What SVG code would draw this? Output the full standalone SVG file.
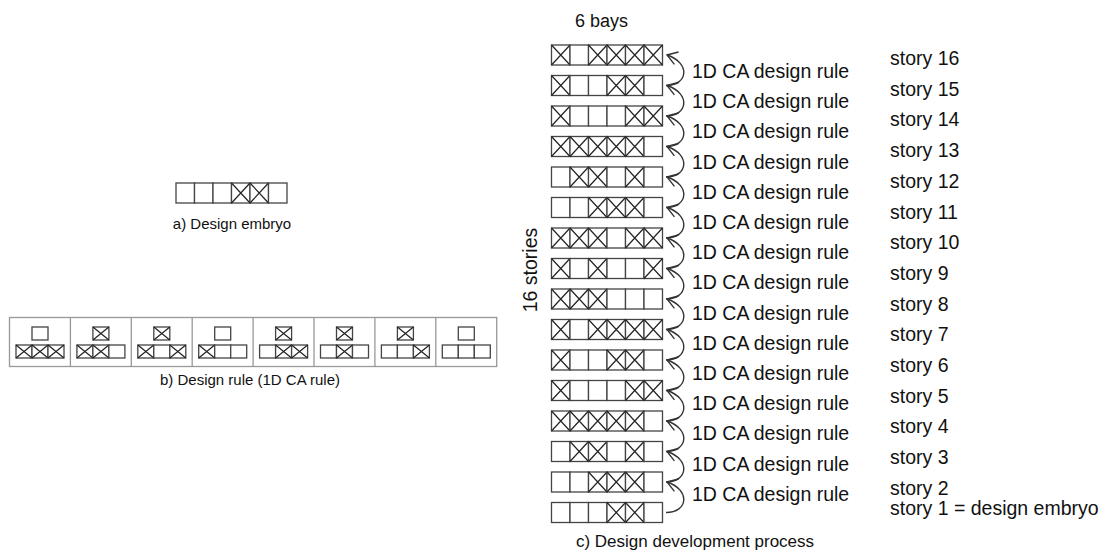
<svg xmlns="http://www.w3.org/2000/svg" xmlns:xlink="http://www.w3.org/1999/xlink" width="1107" height="555" viewBox="0 0 1107 555">
<style>
text{font-family:"Liberation Sans",Arial,sans-serif;fill:#111}
.cell{fill:#fff;stroke:#444;stroke-width:1.3}
.xl{fill:none;stroke:#222;stroke-width:1.2}
.frame{fill:#fff;stroke:#999;stroke-width:1.3}
.arr{fill:none;stroke:#333;stroke-width:1.4}
.lbl{font-size:19.5px}
.cap{font-size:15px;text-anchor:middle}
</style>
<defs>
<g id="e"><rect width="18.5" height="20" class="cell"/></g>
<g id="x"><rect width="18.5" height="20" class="cell"/><path d="M0 0L18.5 20M18.5 0L0 20" class="xl"/></g>
<g id="se"><rect width="16" height="13" class="cell"/></g>
<g id="sx"><rect width="16" height="13" class="cell"/><path d="M0 0L16 13M16 0L0 13" class="xl"/></g>
<marker id="ah" viewBox="-1 -8 12 16" refX="10" refY="0" markerWidth="12" markerHeight="16" markerUnits="userSpaceOnUse" orient="auto"><path d="M0,-6.5L10,0L0,6.5" fill="none" stroke="#333" stroke-width="1.4"/></marker>
</defs>
<rect width="1107" height="555" fill="#fff"/>

<g id="embryo" transform="translate(176,183)">
<use href="#e" x="0"/><use href="#e" x="18.5"/><use href="#e" x="37"/><use href="#x" x="55.5"/><use href="#x" x="74"/><use href="#e" x="92.5"/>
</g>
<text class="cap" x="232" y="229">a) Design embryo</text>

<g id="rule">
<rect class="frame" x="9.5" y="317.5" width="487.2" height="49"/>
<path d="M70.4 317.5V366.5M131.3 317.5V366.5M192.2 317.5V366.5M253.1 317.5V366.5M314 317.5V366.5M374.9 317.5V366.5M435.8 317.5V366.5" stroke="#999" stroke-width="1.3"/>
<g transform="translate(9.5,0)"><use href="#se" x="22.5" y="327"/><use href="#sx" x="6.5" y="345"/><use href="#sx" x="22.5" y="345"/><use href="#sx" x="38.5" y="345"/></g>
<g transform="translate(70.4,0)"><use href="#sx" x="22.5" y="327"/><use href="#sx" x="6.5" y="345"/><use href="#sx" x="22.5" y="345"/><use href="#se" x="38.5" y="345"/></g>
<g transform="translate(131.3,0)"><use href="#sx" x="22.5" y="327"/><use href="#sx" x="6.5" y="345"/><use href="#se" x="22.5" y="345"/><use href="#sx" x="38.5" y="345"/></g>
<g transform="translate(192.2,0)"><use href="#se" x="22.5" y="327"/><use href="#sx" x="6.5" y="345"/><use href="#se" x="22.5" y="345"/><use href="#se" x="38.5" y="345"/></g>
<g transform="translate(253.1,0)"><use href="#sx" x="22.5" y="327"/><use href="#se" x="6.5" y="345"/><use href="#sx" x="22.5" y="345"/><use href="#sx" x="38.5" y="345"/></g>
<g transform="translate(314,0)"><use href="#sx" x="22.5" y="327"/><use href="#se" x="6.5" y="345"/><use href="#sx" x="22.5" y="345"/><use href="#se" x="38.5" y="345"/></g>
<g transform="translate(374.9,0)"><use href="#sx" x="22.5" y="327"/><use href="#se" x="6.5" y="345"/><use href="#se" x="22.5" y="345"/><use href="#sx" x="38.5" y="345"/></g>
<g transform="translate(435.8,0)"><use href="#se" x="22.5" y="327"/><use href="#se" x="6.5" y="345"/><use href="#se" x="22.5" y="345"/><use href="#se" x="38.5" y="345"/></g>
</g>
<text class="cap" x="250" y="385">b) Design rule (1D CA rule)</text>

<text x="575" y="27" style="font-size:18px">6 bays</text>
<text class="lbl" transform="translate(537,270) rotate(-90)" text-anchor="middle">16 stories</text>

<g id="story16" transform="translate(551.5,45)"><use href="#x"/><use href="#e" x="18.5"/><use href="#x" x="37"/><use href="#x" x="55.5"/><use href="#x" x="74"/><use href="#x" x="92.5"/></g>
<g id="story15" transform="translate(551.5,75.5)"><use href="#x"/><use href="#e" x="18.5"/><use href="#e" x="37"/><use href="#x" x="55.5"/><use href="#x" x="74"/><use href="#e" x="92.5"/></g>
<g id="story14" transform="translate(551.5,106)"><use href="#x"/><use href="#e" x="18.5"/><use href="#e" x="37"/><use href="#e" x="55.5"/><use href="#x" x="74"/><use href="#x" x="92.5"/></g>
<g id="story13" transform="translate(551.5,136.5)"><use href="#x"/><use href="#x" x="18.5"/><use href="#x" x="37"/><use href="#x" x="55.5"/><use href="#x" x="74"/><use href="#e" x="92.5"/></g>
<g id="story12" transform="translate(551.5,167)"><use href="#e"/><use href="#x" x="18.5"/><use href="#x" x="37"/><use href="#e" x="55.5"/><use href="#x" x="74"/><use href="#e" x="92.5"/></g>
<g id="story11" transform="translate(551.5,197.5)"><use href="#e"/><use href="#e" x="18.5"/><use href="#x" x="37"/><use href="#x" x="55.5"/><use href="#x" x="74"/><use href="#e" x="92.5"/></g>
<g id="story10" transform="translate(551.5,228)"><use href="#x"/><use href="#x" x="18.5"/><use href="#x" x="37"/><use href="#e" x="55.5"/><use href="#x" x="74"/><use href="#x" x="92.5"/></g>
<g id="story9" transform="translate(551.5,258.5)"><use href="#x"/><use href="#e" x="18.5"/><use href="#x" x="37"/><use href="#e" x="55.5"/><use href="#e" x="74"/><use href="#x" x="92.5"/></g>
<g id="story8" transform="translate(551.5,289)"><use href="#x"/><use href="#x" x="18.5"/><use href="#x" x="37"/><use href="#e" x="55.5"/><use href="#e" x="74"/><use href="#e" x="92.5"/></g>
<g id="story7" transform="translate(551.5,319.5)"><use href="#x"/><use href="#e" x="18.5"/><use href="#x" x="37"/><use href="#x" x="55.5"/><use href="#x" x="74"/><use href="#x" x="92.5"/></g>
<g id="story6" transform="translate(551.5,350)"><use href="#x"/><use href="#e" x="18.5"/><use href="#e" x="37"/><use href="#x" x="55.5"/><use href="#x" x="74"/><use href="#e" x="92.5"/></g>
<g id="story5" transform="translate(551.5,380.5)"><use href="#x"/><use href="#e" x="18.5"/><use href="#e" x="37"/><use href="#e" x="55.5"/><use href="#x" x="74"/><use href="#x" x="92.5"/></g>
<g id="story4" transform="translate(551.5,411)"><use href="#x"/><use href="#x" x="18.5"/><use href="#x" x="37"/><use href="#x" x="55.5"/><use href="#x" x="74"/><use href="#e" x="92.5"/></g>
<g id="story3" transform="translate(551.5,441.5)"><use href="#e"/><use href="#x" x="18.5"/><use href="#x" x="37"/><use href="#e" x="55.5"/><use href="#x" x="74"/><use href="#e" x="92.5"/></g>
<g id="story2" transform="translate(551.5,472)"><use href="#e"/><use href="#e" x="18.5"/><use href="#x" x="37"/><use href="#x" x="55.5"/><use href="#x" x="74"/><use href="#e" x="92.5"/></g>
<g id="story1" transform="translate(551.5,502.5)"><use href="#e"/><use href="#e" x="18.5"/><use href="#e" x="37"/><use href="#x" x="55.5"/><use href="#x" x="74"/><use href="#e" x="92.5"/></g>

<g id="connectors">
<path class="arr" marker-end="url(#ah)" d="M666 85.5C688 85.5 691 63 667 55"/>
<path class="arr" marker-end="url(#ah)" d="M666 116C688 116 691 93.5 667 85.5"/>
<path class="arr" marker-end="url(#ah)" d="M666 146.5C688 146.5 691 124 667 116"/>
<path class="arr" marker-end="url(#ah)" d="M666 177C688 177 691 154.5 667 146.5"/>
<path class="arr" marker-end="url(#ah)" d="M666 207.5C688 207.5 691 185 667 177"/>
<path class="arr" marker-end="url(#ah)" d="M666 238C688 238 691 215.5 667 207.5"/>
<path class="arr" marker-end="url(#ah)" d="M666 268.5C688 268.5 691 246 667 238"/>
<path class="arr" marker-end="url(#ah)" d="M666 299C688 299 691 276.5 667 268.5"/>
<path class="arr" marker-end="url(#ah)" d="M666 329.5C688 329.5 691 307 667 299"/>
<path class="arr" marker-end="url(#ah)" d="M666 360C688 360 691 337.5 667 329.5"/>
<path class="arr" marker-end="url(#ah)" d="M666 390.5C688 390.5 691 368 667 360"/>
<path class="arr" marker-end="url(#ah)" d="M666 421C688 421 691 398.5 667 390.5"/>
<path class="arr" marker-end="url(#ah)" d="M666 451.5C688 451.5 691 429 667 421"/>
<path class="arr" marker-end="url(#ah)" d="M666 482C688 482 691 459.5 667 451.5"/>
<path class="arr" marker-end="url(#ah)" d="M666 512.5C688 512.5 691 490 667 482"/>
</g>

<g class="lbl">
<text x="692" y="78">1D CA design rule</text>
<text x="692" y="108.2">1D CA design rule</text>
<text x="692" y="138.4">1D CA design rule</text>
<text x="692" y="168.6">1D CA design rule</text>
<text x="692" y="198.8">1D CA design rule</text>
<text x="692" y="229">1D CA design rule</text>
<text x="692" y="259.2">1D CA design rule</text>
<text x="692" y="289.4">1D CA design rule</text>
<text x="692" y="319.6">1D CA design rule</text>
<text x="692" y="349.8">1D CA design rule</text>
<text x="692" y="380">1D CA design rule</text>
<text x="692" y="410.2">1D CA design rule</text>
<text x="692" y="440.4">1D CA design rule</text>
<text x="692" y="470.6">1D CA design rule</text>
<text x="692" y="500.8">1D CA design rule</text>
</g>
<g class="lbl">
<text x="890" y="65">story 16</text>
<text x="890" y="95.7">story 15</text>
<text x="890" y="126.4">story 14</text>
<text x="890" y="157.1">story 13</text>
<text x="890" y="187.8">story 12</text>
<text x="890" y="218.5">story 11</text>
<text x="890" y="249.2">story 10</text>
<text x="890" y="279.9">story 9</text>
<text x="890" y="310.6">story 8</text>
<text x="890" y="341.3">story 7</text>
<text x="890" y="372">story 6</text>
<text x="890" y="402.7">story 5</text>
<text x="890" y="433.4">story 4</text>
<text x="890" y="464.1">story 3</text>
<text x="890" y="494.8">story 2</text>
<text x="890" y="515">story 1 = design embryo</text>
</g>
<text x="695" y="547" style="font-size:17px;text-anchor:middle">c) Design development process</text>
</svg>
